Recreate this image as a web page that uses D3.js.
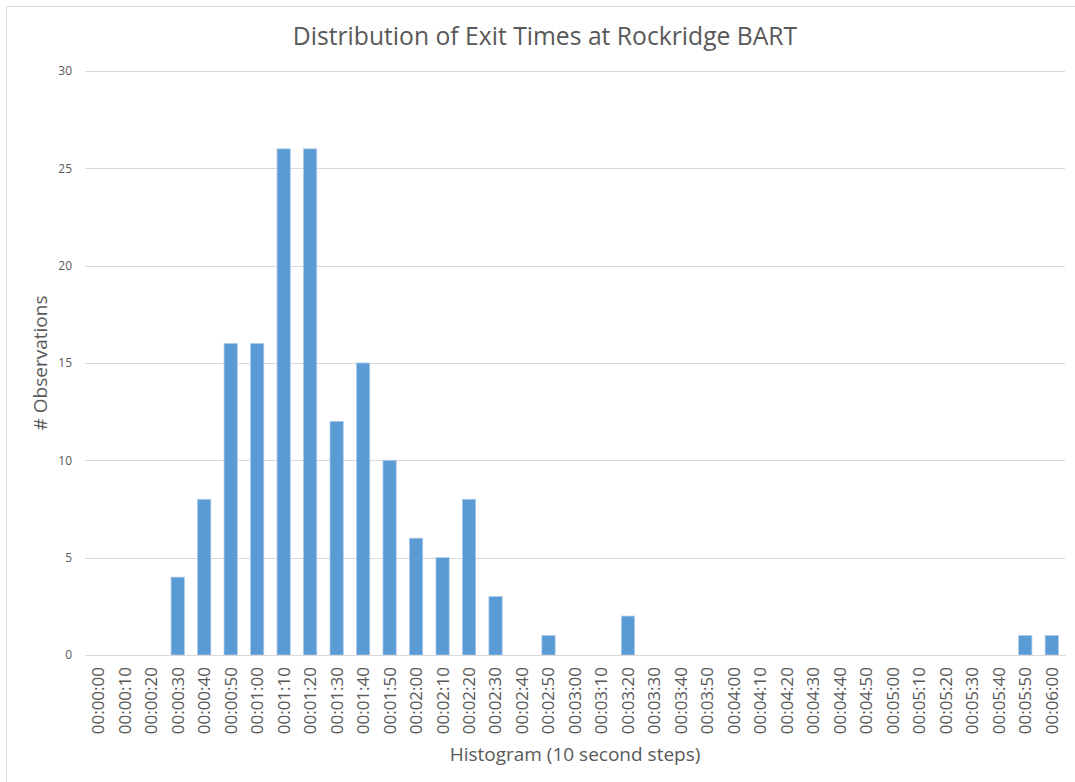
<!DOCTYPE html>
<html><head><meta charset="utf-8">
<script src="https://d3js.org/d3.v7.min.js"></script>
<style>body{margin:0;background:#fff;} text{font-family:"Open Sans",sans-serif;fill:#595959;}</style>
</head><body>
<svg id="c" width="1075" height="782"></svg>
<script>
const categories = ["00:00:00","00:00:10","00:00:20","00:00:30","00:00:40","00:00:50","00:01:00","00:01:10","00:01:20","00:01:30","00:01:40","00:01:50","00:02:00","00:02:10","00:02:20","00:02:30","00:02:40","00:02:50","00:03:00","00:03:10","00:03:20","00:03:30","00:03:40","00:03:50","00:04:00","00:04:10","00:04:20","00:04:30","00:04:40","00:04:50","00:05:00","00:05:10","00:05:20","00:05:30","00:05:40","00:05:50","00:06:00"];
const counts = [0,0,0,4,8,16,16,26,26,12,15,10,6,5,8,3,0,1,0,0,2,0,0,0,0,0,0,0,0,0,0,0,0,0,0,1,1];
const yTicks = [0,5,10,15,20,25,30];
const title = "Distribution of Exit Times at Rockridge BART";
const xTitle = "Histogram (10 second steps)";
const yTitle = "# Observations";

const svg = d3.select("#c");
svg.append("rect").attr("x",6.5).attr("y",6.5).attr("width",1070).attr("height",780).attr("fill","none").attr("stroke","#D9D9D9");
const L=85,R=1065,T=71,B=655;
const x = d3.scaleBand().domain(categories).range([L,R]).paddingInner(0.5).paddingOuter(0.25);
const y = d3.scaleLinear().domain([0,30]).range([B,T]);

svg.append("g").selectAll("line").data(yTicks).join("line")
  .attr("x1",L).attr("x2",R).attr("y1",d=>Math.round(y(d))+0.5).attr("y2",d=>Math.round(y(d))+0.5)
  .attr("stroke","#D9D9D9").attr("stroke-width",1);

const yAxis = svg.append("g").attr("transform",`translate(${L},0)`).call(d3.axisLeft(y).tickValues(yTicks).tickSize(0).tickPadding(13));
yAxis.select(".domain").remove();
yAxis.selectAll("text").attr("font-size",12).attr("fill","#595959").attr("font-family","Open Sans");

svg.append("g").selectAll("rect").data(counts).join("rect")
  .attr("x",(d,i)=>x(categories[i])).attr("width",x.bandwidth())
  .attr("y",d=>y(d)).attr("height",d=>B-y(d))
  .attr("fill","#5B9BD5").attr("stroke","#A9C9EA").attr("stroke-width",0.75);

const xAxis = svg.append("g").attr("transform",`translate(0,${B})`).call(d3.axisBottom(x).tickSize(0).tickPadding(0));
xAxis.select(".domain").attr("stroke","#D9D9D9");
xAxis.selectAll("text").attr("font-size",17).attr("fill","#595959").attr("font-family","Open Sans")
  .attr("text-anchor","end").attr("dy","0.35em").attr("transform","translate(0,12) rotate(-90)");

svg.append("text").attr("x",545).attr("y",45).attr("text-anchor","middle").attr("font-size",24.7).text(title);
svg.append("text").attr("x",575).attr("y",761).attr("text-anchor","middle").attr("font-size",19).text(xTitle);
svg.append("text").attr("transform","translate(47,363) rotate(-90)").attr("text-anchor","middle").attr("font-size",19).text(yTitle);
</script>
</body></html>
